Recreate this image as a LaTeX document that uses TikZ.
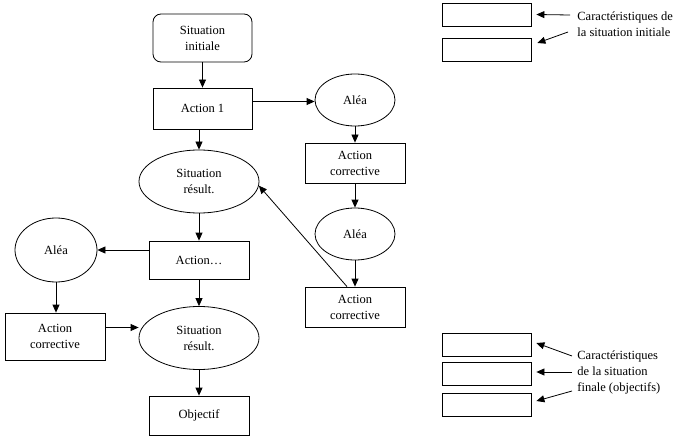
\documentclass[tikz,border=0pt]{standalone}
\usepackage{fontspec}
\setmainfont{Liberation Serif}
\usetikzlibrary{shapes.geometric,arrows.meta,calc}
\newcommand{\myfs}{\fontsize{12.5}{16}\selectfont}
\begin{document}
\begin{tikzpicture}[x=1pt,y=-1pt,line width=0.8pt,
  every node/.style={font=\myfs,inner sep=0pt,align=center},
  box/.style={draw,rectangle,minimum width=100pt,minimum height=40pt},
  rbox/.style={draw,rectangle,rounded corners=8pt,minimum width=99pt,minimum height=48pt},
  ell/.style={draw,ellipse,minimum width=80pt,minimum height=52pt},
  bigell/.style={draw,ellipse,minimum width=120pt,minimum height=63pt},
  small/.style={draw,rectangle,minimum width=89pt,minimum height=23pt},
  lbl/.style={align=left,anchor=west},
  arr/.style={-{Triangle[length=8pt,width=7pt]}}]
\useasboundingbox (0,0) rectangle (681,444);
% nodes
\node[rbox] (sinit) at (202.5,38) {Situation\\initiale};
\node[box,minimum width=99pt,minimum height=41pt] (a1) at (202.5,108.5) {Action 1};
\node[ell] (ale1) at (355,100) {Aléa};
\node[box] (ac1) at (355,163) {Action\\corrective};
\node[ell] (ale2) at (355,234) {Aléa};
\node[box] (ac2) at (355,307) {Action\\corrective};
\node[bigell] (sr1) at (199,181.5) {Situation\\résult.};
\node[box,minimum height=38pt] (act) at (199,260) {Action\ldots};
\node[ell,minimum width=82pt,minimum height=64pt] (ale3) at (56,250) {Aléa};
\node[box,minimum height=47pt] (ac3) at (55,336.5) {Action\\corrective};
\node[bigell] (sr2) at (199,338) {Situation\\résult.};
\node[box,minimum height=39pt] (obj) at (199,415.5) {Objectif};
% right boxes
\node[small] (b1) at (486.5,14.5) {};
\node[small] (b2) at (486.5,49.5) {};
\node[lbl] (t1) at (577,24.5) {Caractéristiques de\\la situation initiale};
\node[small] (b3) at (486.5,344.5) {};
\node[small] (b4) at (486.5,374) {};
\node[small] (b5) at (486.5,404.5) {};
\node[lbl] (t2) at (577,372) {Caractéristiques\\de la situation\\finale (objectifs)};
\coordinate (p1) at (570,15);
\coordinate (p2) at (568,32);
\coordinate (p3) at (572,356);
\coordinate (p4) at (572,372);
\coordinate (p5) at (572,391);
% connectors
\draw[arr] (sinit.south) -- (a1.north);
\draw[arr] (a1.south -| sr1.north) -- (sr1.north);
\draw[arr] ([yshift=7pt]a1.east) -- ([yshift=7pt]a1.east -| ale1.west);
\draw[arr] (ale1.south) -- (ac1.north);
\draw[arr] (ac1.south) -- (ale2.north);
\draw[arr] (ale2.south) -- (ac2.north);
\draw[arr] ([xshift=-8pt]ac2.north) -- (sr1.-4);
\draw[arr] (sr1.south) -- (act.north);
\draw[arr] (act.west |- ale3.east) -- (ale3.east);
\draw[arr] (act.south) -- (sr2.north);
\draw[arr] (ale3.south) -- (ac3.north -| ale3.south);
\draw[arr] ([yshift=9pt]ac3.east) -- ([yshift=9pt]ac3.east -| sr2.west);
\draw[arr] (sr2.south) -- (obj.north);
\draw[arr] (p1) -- ([xshift=5pt]b1.east);
\draw[arr] (p2) -- ([xshift=6pt,yshift=6.5pt]b2.east);
\draw[arr] (p3) -- ([xshift=5pt,yshift=1.5pt]b3.east);
\draw[arr] (p4) -- ([xshift=5pt,yshift=2pt]b4.east);
\draw[arr] (p5) -- ([xshift=5pt,yshift=3.5pt]b5.east);
\end{tikzpicture}
\end{document}
